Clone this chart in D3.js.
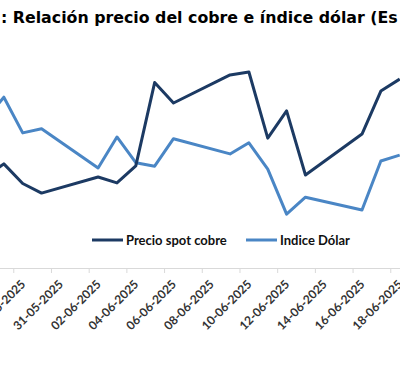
<!DOCTYPE html>
<html>
<head>
<meta charset="utf-8">
<script src="https://cdn.jsdelivr.net/npm/d3@7"></script>
<style>
  html, body { margin: 0; padding: 0; background: #fff; overflow: hidden; }
  svg { display: block; }
</style>
</head>
<body>
<div id="chart"></div>
<script>
// ---- Data ----
const titleText = ": Relación precio del cobre e índice dólar (Es";
const dates = ["2025-05-27","2025-05-28","2025-05-29","2025-05-30","2025-06-02","2025-06-03",
               "2025-06-04","2025-06-05","2025-06-06","2025-06-09","2025-06-10","2025-06-11",
               "2025-06-12","2025-06-13","2025-06-16","2025-06-17","2025-06-18"];
const copper = [9508, 9556, 9489, 9456, 9511, 9491, 9549, 9834, 9764, 9860, 9870, 9644,
                9737, 9518, 9658, 9805, 9846];
const dollar = [99.53, 99.92, 99.31, 99.38, 98.71, 99.24, 98.80, 98.74, 99.21, 98.95, 99.14, 98.69,
                97.92, 98.21, 97.99, 98.83, 98.93];
const tickDates = ["2025-05-27","2025-05-29","2025-05-31","2025-06-02","2025-06-04","2025-06-06",
                   "2025-06-08","2025-06-10","2025-06-12","2025-06-14","2025-06-16","2025-06-18"];
const labelDates = ["2025-05-29","2025-05-31","2025-06-02","2025-06-04","2025-06-06",
                    "2025-06-08","2025-06-10","2025-06-12","2025-06-14","2025-06-16","2025-06-18"];
const seriesNames = ["Precio spot cobre", "Indice Dólar"];
const copperDomain = [9200, 10000];
const dollarDomain = [97, 101];

// ---- Layout ----
const W = 400, H = 367;
const axisY = 268, plotTop = 34;
const dayPx = 18.85;
const x0 = 22.7; // centre of 29-05

const parse = d3.utcParse("%Y-%m-%d");
const fmt = d3.utcFormat("%d-%m-%Y");
const dDates = dates.map(parse);
const dTicks = tickDates.map(parse);
const labelSet = new Set(labelDates);
const ref = parse("2025-05-29");
const ref2 = d3.utcDay.offset(ref, 20);

const x = d3.scaleUtc().domain([ref, ref2]).range([x0, x0 + dayPx * 20]);
const yC = d3.scaleLinear().domain(copperDomain).range([axisY, plotTop]);
const yD = d3.scaleLinear().domain(dollarDomain).range([axisY, plotTop]);

const svg = d3.select("#chart").append("svg")
  .attr("width", W).attr("height", H)
  .attr("viewBox", `0 0 ${W} ${H}`);

svg.append("rect").attr("width", W).attr("height", H).attr("fill", "#fff");

// Title
svg.append("text")
  .attr("x", 1).attr("y", 23)
  .attr("font-family", "DejaVu Sans, Verdana, sans-serif")
  .attr("font-weight", "bold")
  .attr("font-size", 15.8)
  .attr("fill", "#000")
  .text(titleText);

// X axis
const xAxis = d3.axisBottom(x)
  .tickValues(dTicks)
  .tickSize(5)
  .tickSizeOuter(0)
  .tickFormat(d => labelSet.has(d3.utcFormat("%Y-%m-%d")(d)) ? fmt(d) : "");

const gx = svg.append("g").attr("transform", `translate(0,${axisY})`).call(xAxis);
gx.select(".domain").remove();
gx.append("line").attr("x1", -50).attr("x2", W + 50).attr("y1", 0.5).attr("y2", 0.5)
  .attr("stroke", "#d9d9d9").attr("stroke-width", 1);
gx.selectAll(".tick line")
  .attr("x1", -dayPx / 2).attr("x2", -dayPx / 2)
  .attr("stroke", "#d9d9d9");
gx.selectAll(".tick text")
  .attr("font-family", "Lato, Carlito, Calibri, sans-serif")
  .attr("font-weight", "bold")
  .attr("font-size", 12)
  .attr("fill", "#333")
  .attr("text-anchor", "end")
  .attr("y", 0).attr("dy", 0)
  .attr("transform", "translate(3,17) rotate(-45)");

// Lines
const lineC = d3.line().x((d, i) => x(dDates[i])).y(d => yC(d));
const lineD = d3.line().x((d, i) => x(dDates[i])).y(d => yD(d));

svg.append("path").datum(dollar)
  .attr("d", lineD).attr("fill", "none")
  .attr("stroke", "#4a86c5").attr("stroke-width", 3)
  .attr("stroke-linejoin", "round");
svg.append("path").datum(copper)
  .attr("d", lineC).attr("fill", "none")
  .attr("stroke", "#1c3a63").attr("stroke-width", 3)
  .attr("stroke-linejoin", "round");

// Legend
const legend = svg.append("g").attr("font-family", "Lato, Carlito, Calibri, sans-serif")
  .attr("font-weight", "bold").attr("font-size", 13);
const legItems = [
  { name: seriesNames[0], color: "#1c3a63", lx: 92 },
  { name: seriesNames[1], color: "#4a86c5", lx: 246 }
];
legItems.forEach(it => {
  legend.append("line").attr("x1", it.lx).attr("x2", it.lx + 31)
    .attr("y1", 240).attr("y2", 240)
    .attr("stroke", it.color).attr("stroke-width", 3);
  legend.append("text").attr("x", it.lx + 34).attr("y", 244.5)
    .attr("fill", "#111").text(it.name);
});
</script>
</body>
</html>
